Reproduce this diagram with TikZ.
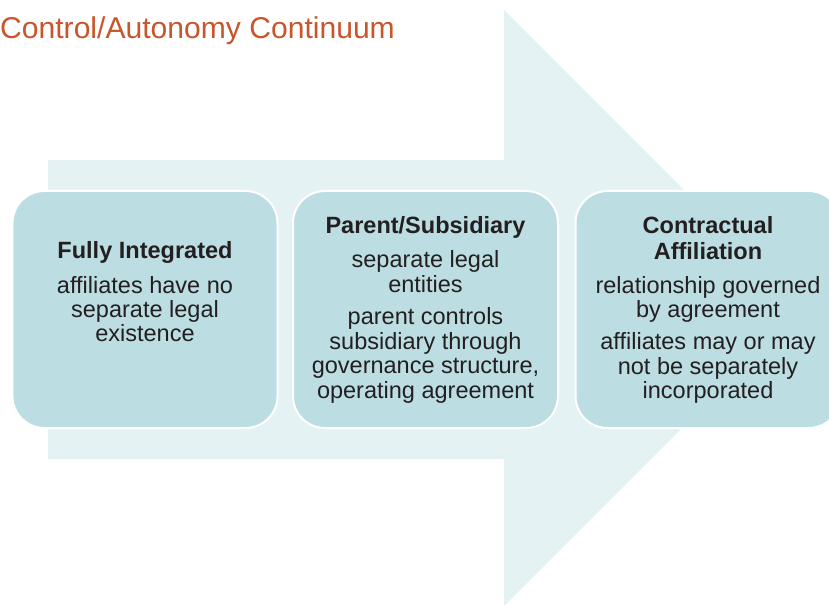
\documentclass[tikz,border=0pt]{standalone}
\usepackage{fontspec}
\setmainfont{Liberation Sans}
\definecolor{arrowbg}{HTML}{E5F2F3}
\definecolor{boxfill}{HTML}{BCDDE2}
\definecolor{titlecol}{HTML}{C8552B}
\definecolor{txtcol}{HTML}{231F20}
\begin{document}
\begin{tikzpicture}[x=1bp,y=-1bp,
  box/.style={draw=white, line width=2bp, fill=boxfill, rounded corners=32bp,
    minimum width=265bp, minimum height=237bp, inner sep=0pt},
  txt/.style={anchor=base, inner sep=0pt, text=txtcol, font=\fontsize{23.6}{24.7}\selectfont},
  hd/.style={txt, font=\fontsize{23.6}{24.7}\selectfont\bfseries}]
\useasboundingbox (0,0) rectangle (829,605);
\begin{scope}
\clip (0,0) rectangle (829,605);
% background arrow
\fill[arrowbg] (48,160) -- (504,160) -- (504,10) -- (802,308) -- (504,606) -- (504,459) -- (48,459) -- cycle;
% boxes
\node[box] (b1) at (145,309.5) {};
\node[box] (b2) at (425.5,309.5) {};
\node[box] (b3) at (708,309.5) {};
\end{scope}
% title
\node[anchor=base west, inner sep=0pt, text=titlecol, font=\fontsize{30.2}{36}\selectfont] (title) at (0,38.5) {Control/Autonomy Continuum};
% box 1 text
\node[hd] (b1h) at (145,258.5) {Fully Integrated};
\node[txt] (b1a) at (145,293) {affiliates have no};
\node[txt] (b1b) at (145,317) {separate legal};
\node[txt] (b1c) at (145,341) {existence};
% box 2 text
\node[hd] (b2h) at (425.5,233.5) {Parent/Subsidiary};
\node[txt] (b2a) at (425.5,267.5) {separate legal};
\node[txt] (b2b) at (425.5,292) {entities};
\node[txt] (b2c) at (425.5,324.5) {parent controls};
\node[txt] (b2d) at (425.5,349) {subsidiary through};
\node[txt] (b2e) at (425.5,373.7) {governance structure,};
\node[txt] (b2f) at (425.5,398.3) {operating agreement};
% box 3 text
\node[hd] (b3h) at (708,233.5) {Contractual};
\node[hd] (b3i) at (708,259) {Affiliation};
\node[txt] (b3a) at (708,293) {relationship governed};
\node[txt] (b3b) at (708,317) {by agreement};
\node[txt] (b3c) at (708,349.5) {affiliates may or may};
\node[txt] (b3d) at (708,374) {not be separately};
\node[txt] (b3e) at (708,398.5) {incorporated};
\end{tikzpicture}
\end{document}
